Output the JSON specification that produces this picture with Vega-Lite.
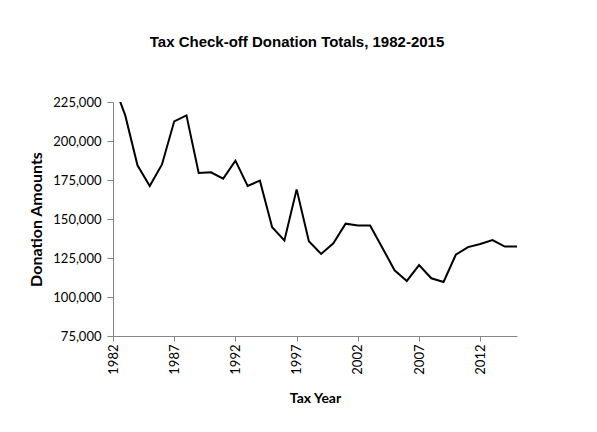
{
  "$schema": "https://vega.github.io/schema/vega-lite/v6.json",
  "width": 404,
  "height": 234,
  "autosize": "none",
  "padding": {"left": 113, "top": 102, "right": 80, "bottom": 96},
  "background": "white",
  "title": {
    "text": "Tax Check-off Donation Totals, 1982-2015",
    "font": "Liberation Sans",
    "fontSize": 15,
    "fontWeight": "bold",
    "color": "#000000",
    "anchor": "middle",
    "dx": -18,
    "offset": 46
  },
  "data": {
    "values": [
      {"Year": 1982, "Amount": 237600},
      {"Year": 1983, "Amount": 216400},
      {"Year": 1984, "Amount": 184400},
      {"Year": 1985, "Amount": 171200},
      {"Year": 1986, "Amount": 185000},
      {"Year": 1987, "Amount": 212600},
      {"Year": 1988, "Amount": 216400},
      {"Year": 1989, "Amount": 179500},
      {"Year": 1990, "Amount": 179900},
      {"Year": 1991, "Amount": 175900},
      {"Year": 1992, "Amount": 187400},
      {"Year": 1993, "Amount": 171200},
      {"Year": 1994, "Amount": 174600},
      {"Year": 1995, "Amount": 144700},
      {"Year": 1996, "Amount": 136300},
      {"Year": 1997, "Amount": 169000},
      {"Year": 1998, "Amount": 135700},
      {"Year": 1999, "Amount": 127600},
      {"Year": 2000, "Amount": 134400},
      {"Year": 2001, "Amount": 147000},
      {"Year": 2002, "Amount": 145900},
      {"Year": 2003, "Amount": 145900},
      {"Year": 2004, "Amount": 131600},
      {"Year": 2005, "Amount": 117100},
      {"Year": 2006, "Amount": 110300},
      {"Year": 2007, "Amount": 120500},
      {"Year": 2008, "Amount": 112000},
      {"Year": 2009, "Amount": 109600},
      {"Year": 2010, "Amount": 127100},
      {"Year": 2011, "Amount": 132000},
      {"Year": 2012, "Amount": 134000},
      {"Year": 2013, "Amount": 136500},
      {"Year": 2014, "Amount": 132300},
      {"Year": 2015, "Amount": 132300}
    ]
  },
  "mark": {"type": "line", "color": "#000000", "strokeWidth": 2, "clip": true},
  "encoding": {
    "x": {
      "field": "Year",
      "type": "quantitative",
      "scale": {"domain": [1982, 2015], "nice": false, "zero": false},
      "axis": {
        "title": "Tax Year",
        "values": [1982, 1987, 1992, 1997, 2002, 2007, 2012],
        "format": "d",
        "labelAngle": -90,
        "labelAlign": "right",
        "labelBaseline": "middle",
        "labelFont": "Lato",
        "labelFontSize": 13,
        "labelColor": "#000000",
        "labelPadding": 3,
        "tickSize": 5,
        "tickColor": "#868686",
        "domainColor": "#868686",
        "grid": false,
        "titleFont": "Lato",
        "titleFontSize": 14,
        "titleFontWeight": "bold",
        "titleColor": "#000000",
        "titlePadding": 17
      }
    },
    "y": {
      "field": "Amount",
      "type": "quantitative",
      "scale": {"domain": [75000, 225000], "nice": false, "zero": false},
      "axis": {
        "title": "Donation Amounts",
        "values": [75000, 100000, 125000, 150000, 175000, 200000, 225000],
        "format": ",.0f",
        "labelFont": "Lato",
        "labelFontSize": 13,
        "labelColor": "#000000",
        "labelPadding": 6,
        "tickSize": 6,
        "tickColor": "#868686",
        "domainColor": "#868686",
        "grid": false,
        "titleFont": "Lato",
        "titleFontSize": 16,
        "titleFontWeight": "bold",
        "titleColor": "#000000",
        "titlePadding": 8
      }
    }
  },
  "config": {"view": {"stroke": null}}
}
